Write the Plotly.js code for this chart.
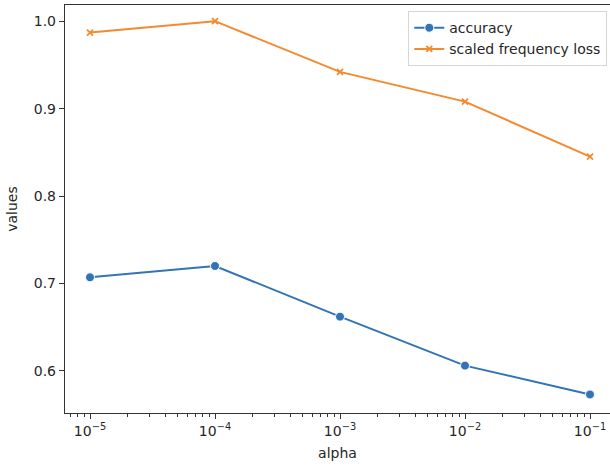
<!DOCTYPE html>
<html><head><meta charset="utf-8">
<script src="https://cdn.plot.ly/plotly-3.0.1.min.js"></script>
<style>html,body{margin:0;padding:0;background:#fff}#chart{width:610px;height:468px}</style>
</head><body><div id="chart"></div>
<script>
const alphas = [1e-5, 1e-4, 1e-3, 1e-2, 1e-1];
const accuracy = [0.707, 0.720, 0.662, 0.606, 0.573];
const scaledFrequencyLoss = [0.987, 1.000, 0.942, 0.908, 0.845];
const xTickVals = [1e-5, 1e-4, 1e-3, 1e-2, 1e-1];
const xTickText = ['10<sup>−5</sup>', '10<sup>−4</sup>', '10<sup>−3</sup>', '10<sup>−2</sup>', '10<sup>−1</sup>'];
const yTickVals = [0.6, 0.7, 0.8, 0.9, 1.0];
const yTickText = ['0.6', '0.7', '0.8', '0.9', '1.0'];

const font = {family: 'DejaVu Sans, sans-serif', size: 14, color: '#262626'};
const traces = [
  {x: alphas, y: accuracy, name: 'accuracy', mode: 'lines+markers', type: 'scatter',
   line: {color: '#3274b5', width: 2},
   marker: {symbol: 'circle', size: 9, color: '#3274b5', line: {color: '#ffffff', width: 1}}},
  {x: alphas, y: scaledFrequencyLoss, name: 'scaled frequency loss', mode: 'lines+markers', type: 'scatter',
   line: {color: '#f48a2e', width: 2},
   marker: {symbol: 'x-thin', size: 6, color: '#f48a2e', line: {color: '#f48a2e', width: 1.8}}}
];
const layout = {
  width: 610, height: 468,
  margin: {l: 65, r: 0, t: 5, b: 55},
  paper_bgcolor: '#fff', plot_bgcolor: '#fff',
  font: font,
  showlegend: true,
  legend: {x: 0.995, xanchor: 'right', y: 0.985, yanchor: 'top', itemwidth: 30,
    bgcolor: 'rgba(255,255,255,0.8)', bordercolor: '#d6d6d6', borderwidth: 1,
    font: {family: 'DejaVu Sans, sans-serif', size: 14, color: '#262626'}},
  xaxis: {type: 'log', range: [-5.2, -0.84], showgrid: false, zeroline: false,
    showline: true, linecolor: '#333', linewidth: 1.2, mirror: true,
    ticks: 'outside', ticklen: 5, tickcolor: '#333', tickwidth: 1,
    tickvals: xTickVals, ticktext: xTickText,
    minor: {ticks: 'outside', ticklen: 2.5, tickcolor: '#333', tickwidth: 1, dtick: 'D1', showgrid: false},
    title: {text: 'alpha', font: font, standoff: 10}},
  yaxis: {range: [0.5518, 1.0185], showgrid: false, zeroline: false,
    showline: true, linecolor: '#333', linewidth: 1.2,
    ticks: 'outside', ticklen: 5, tickcolor: '#333', tickwidth: 1,
    tickvals: yTickVals, ticktext: yTickText,
    title: {text: 'values', font: font, standoff: 12}}
};
Plotly.newPlot('chart', traces, layout, {displayModeBar: false, staticPlot: true});
</script></body></html>
